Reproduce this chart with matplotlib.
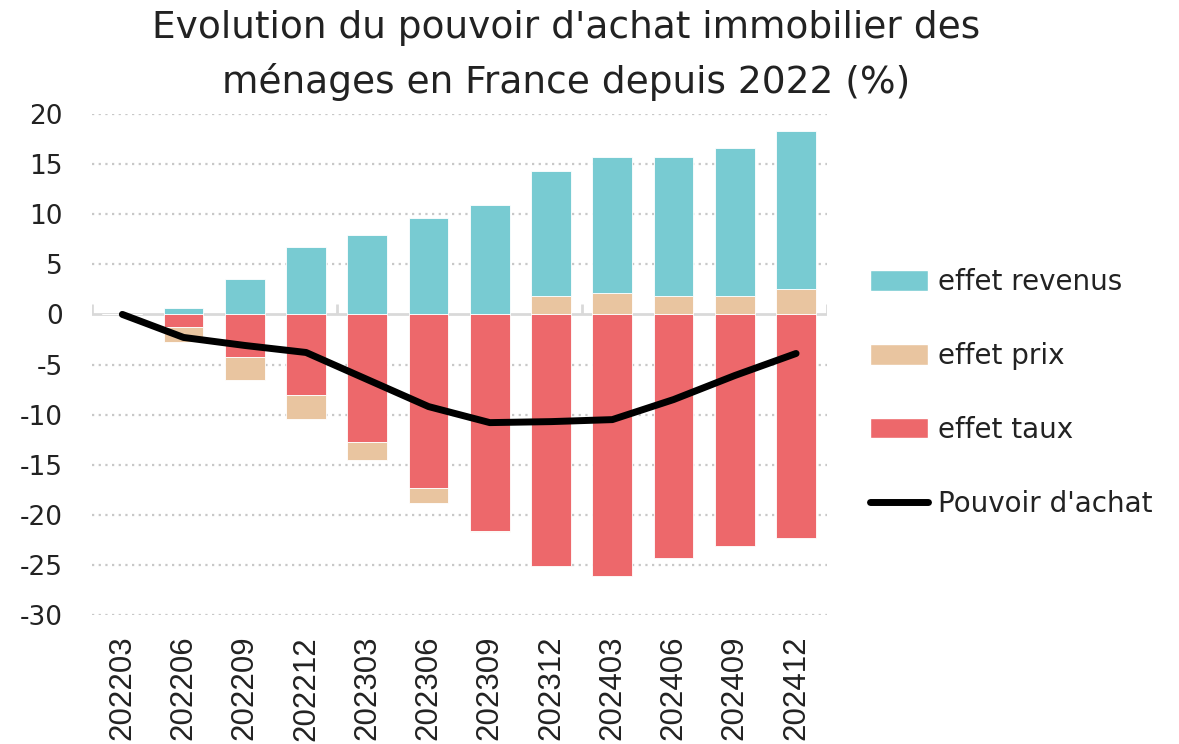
import matplotlib
matplotlib.use("Agg")
import matplotlib.pyplot as plt
import numpy as np
from matplotlib.patches import Patch
from matplotlib.lines import Line2D

categories = ["202203", "202206", "202209", "202212", "202303", "202306",
              "202309", "202312", "202403", "202406", "202409", "202412"]
effet_taux = [0.0, -1.3, -4.3, -8.0, -12.7, -17.3, -21.6, -25.1, -26.1, -24.3, -23.1, -22.3]
effet_prix = [0.0, -1.5, -2.2, -2.4, -1.8, -1.5, -0.1, 1.8, 2.1, 1.8, 1.8, 2.55]
effet_revenus = [0.0, 0.6, 3.5, 6.7, 7.9, 9.6, 10.9, 12.5, 13.6, 13.9, 14.8, 15.75]
pouvoir_achat = [0.0, -2.3, -3.1, -3.8, -6.5, -9.2, -10.8, -10.7, -10.5, -8.5, -6.1, -3.9]
y_ticks = [20, 15, 10, 5, 0, -5, -10, -15, -20, -25, -30]

c_rev = "#78CBD2"
c_prix = "#E9C5A0"
c_taux = "#ED686B"

plt.rcParams['font.family'] = ['DejaVu Sans']

fig = plt.figure(figsize=(11.79, 7.44), dpi=100)
ax = fig.add_axes([91.7/1179, 1-615/744, (826.7-91.7)/1179, (615-114)/744])

x = np.arange(len(categories))
w = 0.65

# Excel-like stacking: positives and negatives stacked separately, series order taux, prix, revenus
series = [(effet_taux, c_taux), (effet_prix, c_prix), (effet_revenus, c_rev)]
pos_base = np.zeros(len(x))
neg_base = np.zeros(len(x))
for vals, col in series:
    v = np.array(vals, dtype=float)
    bottoms = np.where(v >= 0, pos_base, neg_base)
    ax.bar(x, v, w, bottom=bottoms, color=col, edgecolor='white', linewidth=0.6, zorder=2)
    pos_base = pos_base + np.where(v >= 0, v, 0)
    neg_base = neg_base + np.where(v < 0, v, 0)

ax.plot(x, pouvoir_achat, color='black', lw=5, solid_capstyle='round',
        solid_joinstyle='round', zorder=4)

ax.set_xlim(-0.5, len(x) - 0.5)
ax.set_ylim(-30, 20)
ax.set_yticks(y_ticks)
ax.set_yticklabels([str(t) for t in y_ticks])
for t in y_ticks:
    if t != 0:
        ax.axhline(t, color='#C8C8C8', lw=1.6, ls=(0, (1, 2)), zorder=0)
ax.axhline(0, color='#D9D9D9', lw=2, zorder=1)
# small tick marks on zero axis every 4 categories
for b in [-0.5, 3.5, 7.5, 11.5]:
    ax.plot([b, b], [0, 1.0], color='#D9D9D9', lw=2, zorder=1, solid_capstyle='butt')

for s in ax.spines.values():
    s.set_visible(False)
ax.tick_params(axis='y', length=0, pad=21, labelsize=19, colors='#222222')
ax.tick_params(axis='x', length=0, pad=15)
ax.set_xticks(x)
ax.set_xticklabels(categories, rotation=90, family='Liberation Sans', fontsize=22.5, color='#222222')

fig.text(566/1179, 1-28/744, "Evolution du pouvoir d'achat immobilier des",
         ha='center', va='center', fontsize=27, color='#222222')
fig.text(566/1179, 1-82/744, "ménages en France depuis 2022 (%)",
         ha='center', va='center', fontsize=27, color='#222222')

handles = [Patch(facecolor=c_rev, edgecolor='white'),
           Patch(facecolor=c_prix, edgecolor='white'),
           Patch(facecolor=c_taux, edgecolor='white'),
           Line2D([0], [0], color='black', lw=5, solid_capstyle='round')]
labels = ["effet revenus", "effet prix", "effet taux", "Pouvoir d'achat"]
leg = fig.legend(handles, labels, loc='center left', bbox_to_anchor=(870/1179, 1-393/744),
                 frameon=False, fontsize=20, handlelength=2.1, handleheight=0.75,
                 labelspacing=1.65, handletextpad=0.36, borderpad=0, borderaxespad=0)
for t in leg.get_texts():
    t.set_color('#222222')

fig.savefig("out.png", dpi=100)
